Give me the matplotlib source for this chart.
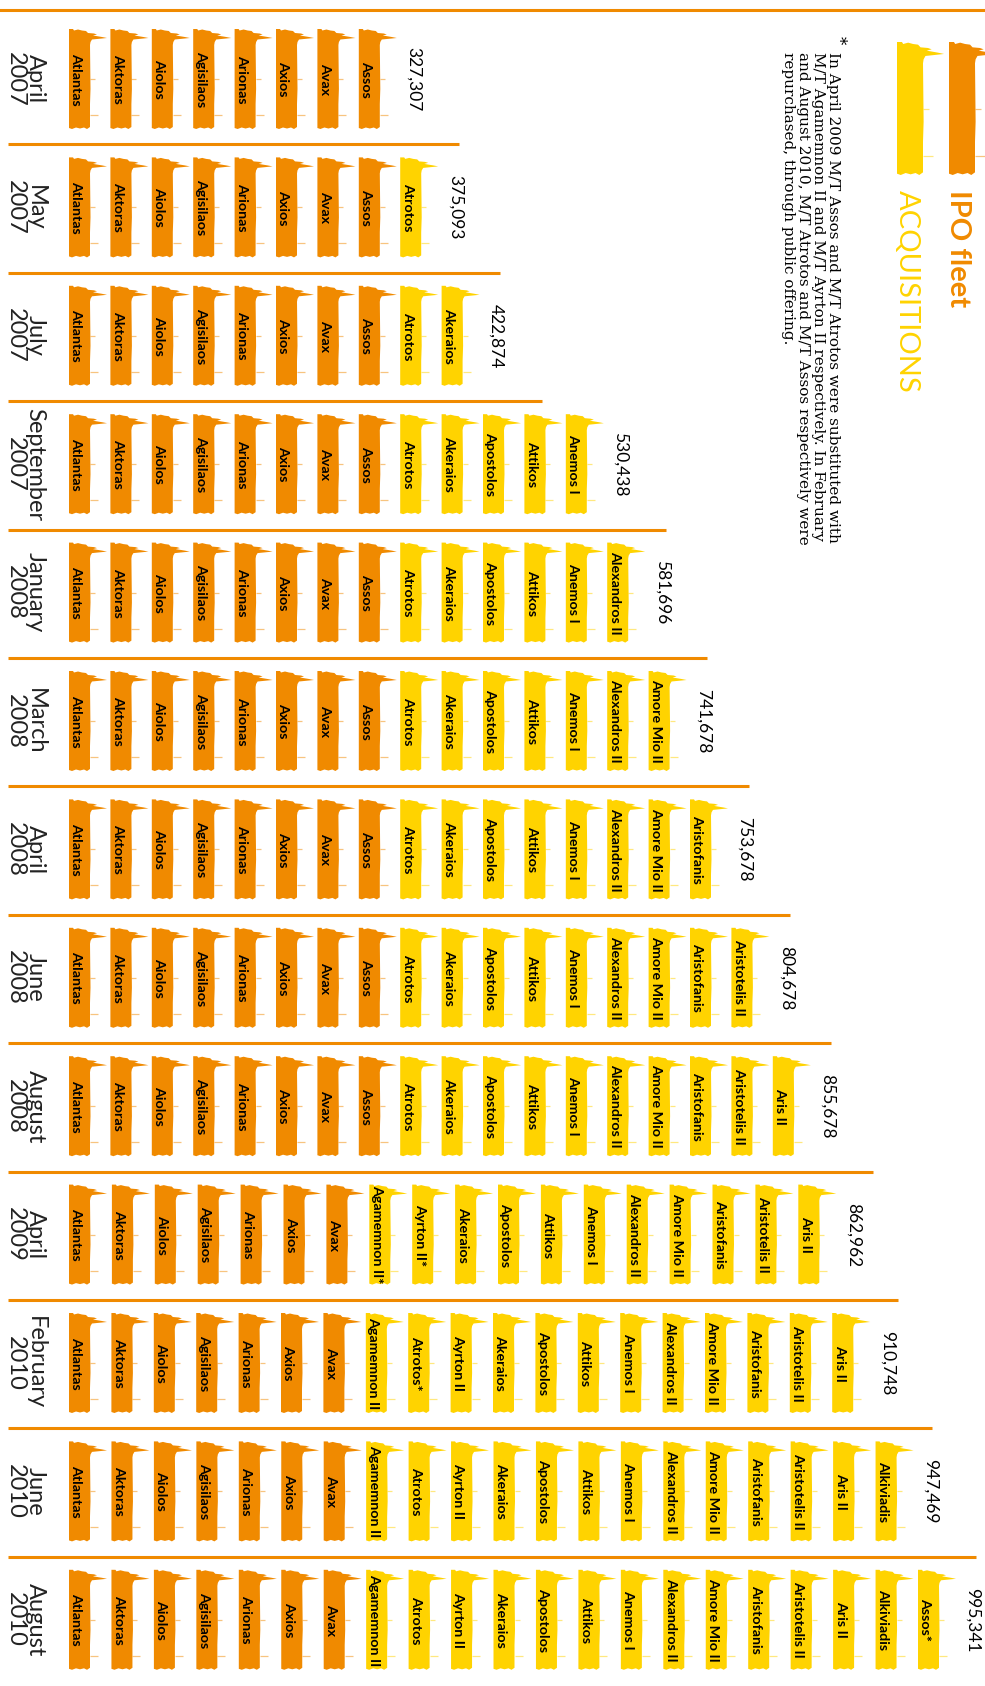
import numpy as np
import matplotlib.pyplot as plt

#%% data

months = ["April\n2007", "May\n2007", "July\n2007", "September\n2007",
          "January\n2008", "March\n2008", "April\n2008", "June\n2008",
          "August\n2008", "April\n2009", "February\n2010", "June\n2010",
          "August\n2010"]

dwt = [327307, 375093, 422874, 530438, 581696, 741678, 753678, 804678,
       855678, 862962, 910748, 947469, 995341]

# ships delivered at the IPO (orange)
ipo_fleet = ["Atlantas", "Aktoras", "Aiolos", "Agisilaos", "Arionas",
             "Axios", "Avax", "Assos"]

# acquisitions 2007-2008 in order of delivery
acquisitions = ["Atrotos", "Akeraios", "Apostolos", "Attikos", "Anemos I",
                "Alexandros II", "Amore Mio II", "Aristofanis",
                "Aristotelis II", "Aris II"]

# number of acquired ships in each of the first nine rows
n_acquired = [0, 1, 2, 5, 6, 7, 8, 9, 10]

fleet_apr_2009 = ["Atlantas", "Aktoras", "Aiolos", "Agisilaos", "Arionas",
                  "Axios", "Avax", "Agamemnon II*", "Ayrton II*", "Akeraios",
                  "Apostolos", "Attikos", "Anemos I", "Alexandros II",
                  "Amore Mio II", "Aristofanis", "Aristotelis II", "Aris II"]

fleet_feb_2010 = ["Atlantas", "Aktoras", "Aiolos", "Agisilaos", "Arionas",
                  "Axios", "Avax", "Agamemnon II", "Atrotos*", "Ayrton II",
                  "Akeraios", "Apostolos", "Attikos", "Anemos I",
                  "Alexandros II", "Amore Mio II", "Aristofanis",
                  "Aristotelis II", "Aris II"]

fleet_jun_2010 = ["Atlantas", "Aktoras", "Aiolos", "Agisilaos", "Arionas",
                  "Axios", "Avax", "Agamemnon II", "Atrotos", "Ayrton II",
                  "Akeraios", "Apostolos", "Attikos", "Anemos I",
                  "Alexandros II", "Amore Mio II", "Aristofanis",
                  "Aristotelis II", "Aris II", "Alkiviadis"]

fleet_aug_2010 = fleet_jun_2010 + ["Assos*"]

fleets = [ipo_fleet + acquisitions[:n] for n in n_acquired]
fleets += [fleet_apr_2009, fleet_feb_2010, fleet_jun_2010, fleet_aug_2010]

footnote = ("In April 2009 M/T Assos and M/T Atrotos were substituted with\n"
            "M/T Agamemnon II and M/T Ayrton II respectively. In February\n"
            "and August 2010, M/T Atrotos and M/T Assos respectively were\n"
            "repurchased, through public offering.")

#%% style / layout

ORANGE = "#F08A00"
YELLOW = "#FFD300"
SANS = ["Lato", "DejaVu Sans"]

W, H = 21, 100                       # ship size in px
row_h = 128.4
row_top0 = 16
x_first = 69
spacing = [41.4] * 9 + [42.9, 42.4, 42.45, 42.45]

# outline of a ship (px, for a 21 x 100 ship), y grows downwards
ship_dx = np.array([0, 4, 5, 9, 13, 17, 19, 25, 28, 24, 33, 38, 30, 23,
                    21.5, 21, 21.5, 21, 21, 18, 15, 11, 7, 3, 0])
ship_dy = np.array([0, 0, 1.5, 0.5, 1.5, 2, 4, 4.5, 5.5, 6.5, 8, 9, 9.8,
                    10.5, 13, 16, 60, 75, 98, 100, 98.5, 99.5, 98.5, 100, 99])


def draw_ship(ax, x0, y0, color, w=W, h=H):
    ax.fill(x0 + ship_dx * w / 21, y0 + ship_dy * h / 100, color=color, lw=0)
    # faint deck fittings
    ax.hlines([y0 + 0.5 * h, y0 + 0.86 * h], x0 + w,
              [x0 + w * 26 / 21, x0 + w * 29 / 21],
              color=color, lw=0.9, alpha=0.5)


fig = plt.figure(figsize=(9.85, 16.86), dpi=100)
ax = fig.add_axes([0, 0, 1, 1])
ax.set_xlim(0, 985)
ax.set_ylim(1686, 0)
ax.axis("off")

# top rule
ax.axhline(10, color=ORANGE, lw=2.2)

prev_end = None
for i, (month, total, fleet) in enumerate(zip(months, dwt, fleets)):
    top = row_top0 + i * row_h
    ship_top = top + 13
    mid = ship_top + H / 2
    xs = x_first + spacing[i] * np.arange(len(fleet))

    if prev_end is not None:
        ax.hlines(top, 8, min(prev_end, 985), color=ORANGE, lw=2.2)

    for x, name in zip(xs, fleet):
        col = ORANGE if name in ipo_fleet else YELLOW
        draw_ship(ax, x, ship_top, col)
        ax.text(x + 3.5, mid, name, rotation=270, rotation_mode="anchor",
                ha="center", va="baseline", fontsize=10.3, fontweight="bold",
                family=SANS, color="black")

    ax.text(25, mid, month, rotation=270, rotation_mode="anchor",
            ha="center", va="center", multialignment="center",
            fontsize=17, fontweight="normal", family=SANS, linespacing=0.95,
            color="#222222")

    ax.text(xs[-1] + 55, mid, "{:,}".format(total), rotation=270,
            rotation_mode="anchor", ha="center", va="center",
            fontsize=12.5, family=SANS)

    prev_end = xs[-1] + 100

#%% legend and footnote

draw_ship(ax, 897, 42, YELLOW, w=26, h=133)
draw_ship(ax, 949, 42, ORANGE, w=26, h=133)

ax.text(958, 190, "IPO fleet", rotation=270, rotation_mode="anchor",
        ha="left", va="center", color=ORANGE, fontsize=21,
        fontweight="bold", family=SANS)
ax.text(907, 190, "ACQUISITIONS", rotation=270, rotation_mode="anchor",
        ha="left", va="center", color=YELLOW, fontsize=21,
        fontweight="normal", family=SANS)

ax.text(838, 36, "*", rotation=270, rotation_mode="anchor", ha="left",
        va="center", fontsize=12, family="DejaVu Serif")
ax.text(840, 52, footnote, rotation=270, rotation_mode="anchor",
        ha="left", va="top", multialignment="left", fontsize=11,
        family="DejaVu Serif", linespacing=1.1)

fig.savefig("out.png", dpi=100)
